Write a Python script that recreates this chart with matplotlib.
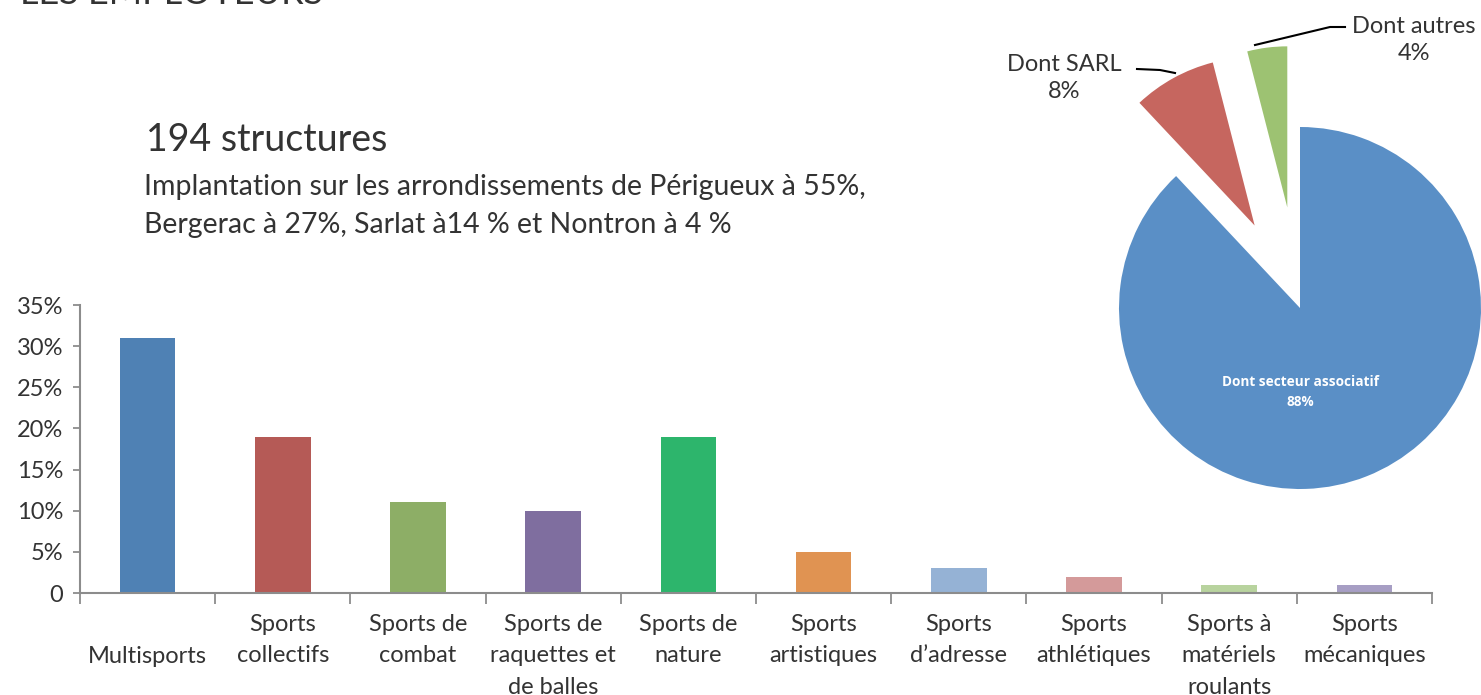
import matplotlib
matplotlib.use("Agg")
import matplotlib.pyplot as plt
from matplotlib.ticker import FixedLocator, FuncFormatter

plt.rcParams['font.family'] = ['Lato', 'DejaVu Sans']

# ---- data ----
categories = ["Multisports", "Sports\ncollectifs", "Sports de\ncombat",
              "Sports de\nraquettes et\nde balles", "Sports de\nnature",
              "Sports\nartistiques", "Sports\nd\u2019adresse", "Sports\nathl\u00e9tiques",
              "Sports \u00e0\nmat\u00e9riels\nroulants", "Sports\nm\u00e9caniques"]
values = [31, 19, 11, 10, 19, 5, 3, 2, 1, 1]
bar_colors = ["#4F81B4", "#B55A56", "#8DAE66", "#7F6E9F", "#2DB56C",
              "#E09352", "#95B2D5", "#D49A9A", "#B8D39E", "#A79EC4"]
y_ticks = [0, 5, 10, 15, 20, 25, 30, 35]

pie_labels = ["Dont secteur associatif", "Dont SARL", "Dont autres"]
pie_values = [88, 8, 4]
pie_colors = ["#5A8FC6", "#C6665F", "#9DC272"]

title_text = "194 structures"
subtitle_text = ("Implantation sur les arrondissements de P\u00e9rigueux \u00e0 55%,\n"
                 "Bergerac \u00e0 27%, Sarlat \u00e014 % et Nontron \u00e0 4 %")
header_text = "LES EMPLOYEURS"

W, H = 1481, 695
fig = plt.figure(figsize=(W / 100, H / 100), dpi=100)
txt_color = "#333333"
axis_color = "#8c8c8c"
fw = "normal"

# ---- bar chart ----
ax = fig.add_axes([80 / W, (H - 593) / H, 1352 / W, 288 / H])
x = list(range(len(categories)))
ax.bar(x, values, width=0.41, color=bar_colors, zorder=2)
ax.set_xlim(-0.5, len(categories) - 0.5)
ax.set_ylim(0, 35)
for s in ["top", "right"]:
    ax.spines[s].set_visible(False)
for s in ["left", "bottom"]:
    ax.spines[s].set_color(axis_color)
    ax.spines[s].set_linewidth(1.5)
ax.set_yticks(y_ticks)
ax.yaxis.set_major_formatter(FuncFormatter(lambda v, p: "0" if v == 0 else f"{int(v)}%"))
ax.tick_params(axis="y", direction="out", length=5, width=1.3, color=axis_color,
               labelsize=17, labelcolor=txt_color, pad=7)
ax.set_xticks(x)
ax.set_xticklabels(categories, fontsize=17, color=txt_color, fontweight=fw,
                   linespacing=1.62)
for lab in ax.get_yticklabels():
    lab.set_fontweight(fw)
ax.tick_params(axis="x", which="major", length=0, pad=15)
ax.xaxis.set_minor_locator(FixedLocator([i - 0.5 for i in range(len(categories) + 1)]))
ax.tick_params(axis="x", which="minor", direction="out", length=8, width=1.3, color=axis_color)
ticks = ax.xaxis.get_major_ticks()
ticks[0].set_pad(15 + 23)

# ---- texts ----
fig.text(146 / W, 1 - 140 / H, title_text, fontsize=27, color=txt_color,
         fontweight=fw, va="center", ha="left")
fig.text(144 / W, 1 - 206 / H, subtitle_text, fontsize=20.5, color=txt_color,
         fontweight=fw, va="center", ha="left", linespacing=1.6)
fig.text(20 / W, 1 - 3.5 / H, header_text, fontsize=26, color=txt_color,
         fontweight=fw, va="baseline", ha="left")

# ---- pie ----
R = 181.0
cx, cy = 1300.0, 308.0
pl, pr, pt, pb = 1100.0, 1481.0, 0.0, 500.0
pax = fig.add_axes([pl / W, (H - pb) / H, (pr - pl) / W, (pb - pt) / H])
wedges, _ = pax.pie(pie_values, colors=pie_colors, startangle=90, counterclock=False,
                    explode=[0, 0.52, 0.56], radius=1.0,
                    wedgeprops=dict(linewidth=0))
wedges[1].set_radius(0.93)
wedges[2].set_radius(0.89)
for w in wedges:
    w.set_clip_on(False)
pax.axis("off")
pax.set_xlim(-(cx - pl) / R, (pr - cx) / R)
pax.set_ylim(-(pb - cy) / R, (cy - pt) / R)
pax.set_aspect("auto")

pax.text(0, -0.465, f"{pie_labels[0]}\n{pie_values[0]}%", color="white", fontsize=9.8,
         fontweight="bold", ha="center", va="center", family=["Open Sans", "DejaVu Sans"],
         linespacing=1.5)

def px(xp, yp):
    return (xp - cx) / R, (cy - yp) / R

sx, sy = px(1064, 78)
pax.text(sx, sy, f"{pie_labels[1]}\n{pie_values[1]}%", fontsize=17, color=txt_color,
         fontweight=fw, ha="center", va="center", linespacing=1.4)
ax_, ay_ = px(1414, 40)
pax.text(ax_, ay_, f"{pie_labels[2]}\n{pie_values[2]}%", fontsize=17, color=txt_color,
         fontweight=fw, ha="center", va="center", linespacing=1.4)

l1 = [px(1137, 69), px(1160, 70), px(1175, 73)]
pax.plot([p[0] for p in l1], [p[1] for p in l1], color="black", lw=1.5, clip_on=False)
l2 = [px(1255, 45), px(1330, 27), px(1345, 27)]
pax.plot([p[0] for p in l2], [p[1] for p in l2], color="black", lw=1.5, clip_on=False)

fig.savefig("out.png", dpi=100)
